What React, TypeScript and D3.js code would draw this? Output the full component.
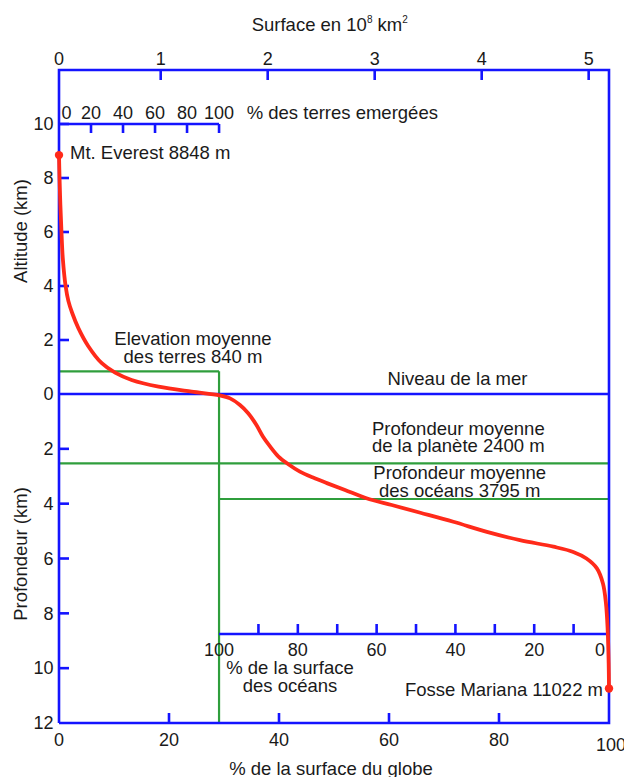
import React from "react";
import * as d3 from "d3";

// ---- data ----
const curveGlobePct = [0, 0.1, 0.25, 0.45, 0.7, 1.2, 1.7, 2.4, 3.5, 5.3, 7.78, 10.2, 13.2, 18.1, 24.1, 29.2, 31.1, 32.9, 34.4, 35.9, 37.1, 38.4, 39.9, 41.7, 43.8, 46.2, 48.7, 52.0, 55.9, 60.5, 65.7, 71.7, 77.8, 83.8, 89.9, 93.5, 95.9, 97.8, 98.9, 99.45, 99.76, 99.94, 100];
const curveElevKm = [8.848, 8.0, 7.0, 6.0, 5.0, 4.0, 3.45, 3.0, 2.45, 1.78, 1.14, 0.79, 0.52, 0.27, 0.085, -0.05, -0.16, -0.4, -0.7, -1.13, -1.56, -1.92, -2.28, -2.56, -2.83, -3.05, -3.25, -3.5, -3.8, -4.05, -4.33, -4.66, -5.03, -5.33, -5.57, -5.76, -6.0, -6.36, -6.91, -7.64, -8.61, -9.83, -10.74];

const altTicks = [0, 2, 4, 6, 8, 10];
const depthTicks = [2, 4, 6, 8, 10, 12];
const globeTicks = [0, 20, 40, 60, 80, 100];
const surfaceTicks = [0, 1, 2, 3, 4, 5];
const landTicks = [0, 20, 40, 60, 80, 100];
const oceanMinorTicks = [10, 20, 30, 40, 50, 60, 70, 80, 90, 100];
const oceanLabelTicks = [100, 80, 60, 40, 20, 0];

const landFractionPct = 29.1; // % of globe that is land
const meanLandElevKm = 0.84;
const meanPlanetDepthKm = 2.53;
const meanOceanDepthKm = 3.83;
const everest = { pct: 0, elev: 8.848 };
const mariana = { pct: 100, elev: -10.74 };

const W = 624;
const H = 777;
const BLUE = "#1414ff";
const GREEN = "#2f9e3c";
const RED = "#ff2a1a";
const TXT = "#1a1a1a";
const FONT = "Liberation Sans, Arial, Helvetica, sans-serif";

export default function App() {
  const xG = d3.scaleLinear().domain([0, 100]).range([59, 609]);
  const y = d3.scaleLinear().domain([-12, 0, 12]).range([723, 394, 70]);
  const xS = d3.scaleLinear().domain([0, 1, 5.19]).range([59, 160.7, 609]);
  const xLand = d3.scaleLinear().domain([0, 100]).range([xG(0), xG(landFractionPct)]);
  const xOcean = d3.scaleLinear().domain([100, 0]).range([xG(landFractionPct), 613]);

  const top = y(12);
  const bottom = y(-12);
  const left = xG(0);
  const right = xG(100);
  const yLandAxis = y(10);
  const yOceanAxis = 634;
  const xSplit = xG(landFractionPct);

  const pts: [number, number][] = curveGlobePct.map((p, i) => [p, curveElevKm[i]]);
  const line = d3
    .line<[number, number]>()
    .x((d) => xG(d[0]))
    .y((d) => y(d[1]))
    .curve(d3.curveCatmullRom.alpha(0.5));

  const fs = 18.5;
  const tfs = 18;

  return (
    <svg
      width={W}
      height={H}
      viewBox={`0 0 ${W} ${H}`}
      style={{ position: "absolute", left: 0, top: 0, background: "#fff" }}
      fontFamily={FONT}
    >
      <rect x={0} y={0} width={W} height={H} fill="#fff" />

      {/* top title */}
      <text x={251.7} y={30.7} fontSize={fs} fill={TXT}>
        Surface en 10
        <tspan fontSize={10} dy={-8}>8</tspan>
        <tspan dy={8}> km</tspan>
        <tspan fontSize={10} dy={-8}>2</tspan>
      </text>

      {/* green mean lines */}
      <g stroke={GREEN} strokeWidth={2.2} fill="none">
        <line x1={left} x2={xSplit} y1={y(meanLandElevKm)} y2={y(meanLandElevKm)} />
        <line x1={xSplit} x2={xSplit} y1={y(meanLandElevKm)} y2={bottom} />
        <line x1={left} x2={right} y1={y(-meanPlanetDepthKm)} y2={y(-meanPlanetDepthKm)} />
        <line x1={xSplit} x2={right} y1={y(-meanOceanDepthKm)} y2={y(-meanOceanDepthKm)} />
      </g>

      {/* frame and axes */}
      <g stroke={BLUE} strokeWidth={2.6} fill="none">
        <path d={`M${left},${bottom}V${top}H${right}V${bottom}H${left}`} />
        <line x1={left} x2={right} y1={y(0)} y2={y(0)} />
        {surfaceTicks.filter((t) => t > 0).map((t) => (
          <line key={"s" + t} x1={xS(t)} x2={xS(t)} y1={top} y2={top + 10} />
        ))}
        {globeTicks.filter((t) => t > 0 && t < 100).map((t) => (
          <line key={"g" + t} x1={xG(t)} x2={xG(t)} y1={bottom} y2={bottom - 10} />
        ))}
        {altTicks.filter((t) => t > 0).map((t) => (
          <line key={"a" + t} x1={left} x2={left + 10} y1={y(t)} y2={y(t)} />
        ))}
        {depthTicks.filter((t) => t < 12).map((t) => (
          <line key={"d" + t} x1={left} x2={left + 10} y1={y(-t)} y2={y(-t)} />
        ))}
        {/* land inner axis */}
        <line x1={left} x2={xLand(100)} y1={yLandAxis} y2={yLandAxis} />
        {landTicks.filter((t) => t > 0).map((t) => (
          <line key={"l" + t} x1={xLand(t)} x2={xLand(t)} y1={yLandAxis} y2={yLandAxis + 9} />
        ))}
        {/* ocean inner axis */}
        <line x1={xSplit} x2={607} y1={yOceanAxis} y2={yOceanAxis} />
        {oceanMinorTicks.filter((t) => t < 100).map((t) => (
          <line key={"o" + t} x1={xOcean(t)} x2={xOcean(t)} y1={yOceanAxis} y2={yOceanAxis - 10} />
        ))}
      </g>

      {/* hypsometric curve */}
      <path d={line(pts) || ""} fill="none" stroke={RED} strokeWidth={3.8} strokeLinejoin="round" strokeLinecap="round" />
      <circle cx={xG(everest.pct)} cy={y(everest.elev)} r={4.2} fill={RED} />
      <circle cx={xG(mariana.pct)} cy={y(mariana.elev)} r={4.2} fill={RED} />

      <g fill={TXT} fontSize={tfs}>
        {/* top tick labels */}
        {surfaceTicks.map((t) => (
          <text key={"st" + t} x={xS(t)} y={65} textAnchor="middle">{t}</text>
        ))}
        {/* bottom tick labels */}
        {globeTicks.map((t) => (
          <text key={"gt" + t} x={t === 100 ? xG(t) + 2 : xG(t)} y={t === 100 ? 750.5 : 745.7} textAnchor="middle">{t}</text>
        ))}
        {/* left labels */}
        {altTicks.map((t) => (
          <text key={"at" + t} x={53.5} y={y(t)} dy="0.35em" textAnchor="end">{t}</text>
        ))}
        {depthTicks.map((t) => (
          <text key={"dt" + t} x={53.5} y={y(-t)} dy="0.35em" textAnchor="end">{t}</text>
        ))}
        {/* land axis labels */}
        {landTicks.map((t) => (
          <text key={"lt" + t} x={t === 0 ? xLand(t) + 7.5 : xLand(t)} y={119} textAnchor="middle">{t}</text>
        ))}
        {/* ocean axis labels */}
        {oceanLabelTicks.map((t) => (
          <text key={"ot" + t} x={t === 0 ? 600 : xOcean(t)} y={656} textAnchor="middle">{t}</text>
        ))}
      </g>

      <g fill={TXT} fontSize={fs}>
        <text x={246.7} y={119}>% des terres emergées</text>
        <text x={70} y={159.3}>Mt. Everest 8848 m</text>
        <text x={193} y={345} textAnchor="middle">Elevation moyenne</text>
        <text x={193} y={363.3} textAnchor="middle">des terres 840 m</text>
        <text x={457.5} y={385} textAnchor="middle">Niveau de la mer</text>
        <text x={458.3} y={434.5} textAnchor="middle">Profondeur moyenne</text>
        <text x={458.3} y={452} textAnchor="middle">de la planète 2400 m</text>
        <text x={459.7} y={479} textAnchor="middle">Profondeur moyenne</text>
        <text x={459.7} y={496.7} textAnchor="middle">des océans 3795 m</text>
        <text x={290} y={674} textAnchor="middle">% de la surface</text>
        <text x={290} y={691.7} textAnchor="middle">des océans</text>
        <text x={603} y={696} textAnchor="end">Fosse Mariana 11022 m</text>
        <text x={331} y={775} textAnchor="middle">% de la surface du globe</text>
        <text transform="translate(27,231) rotate(-90)" textAnchor="middle">Altitude (km)</text>
        <text transform="translate(27,554) rotate(-90)" textAnchor="middle">Profondeur (km)</text>
      </g>
    </svg>
  );
}
